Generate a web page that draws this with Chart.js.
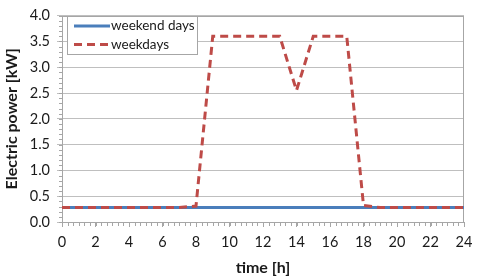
<!DOCTYPE html>
<html>
<head>
<meta charset="utf-8">
<script src="https://cdn.jsdelivr.net/npm/chart.js@4.4.1/dist/chart.umd.min.js"></script>
<style>
  html, body { margin: 0; padding: 0; background: #fff; }
  #wrap { width: 480px; height: 279px; position: relative; }
</style>
</head>
<body>
<div id="wrap"><canvas id="c" width="480" height="279"></canvas></div>
<script>
const hours = [0,1,2,3,4,5,6,7,8,9,10,11,12,13,14,15,16,17,18,19,20,21,22,23,24];
const weekendDays = [0.28,0.28,0.28,0.28,0.28,0.28,0.28,0.28,0.28,0.28,0.28,0.28,0.28,0.28,0.28,0.28,0.28,0.28,0.28,0.28,0.28,0.28,0.28,0.28,0.28];
const weekdays = [0.28,0.28,0.28,0.28,0.28,0.28,0.28,0.28,0.31,3.6,3.6,3.6,3.6,3.6,2.55,3.6,3.6,3.6,0.32,0.28,0.28,0.28,0.28,0.28,0.28];
const seriesLabels = ['weekend days', 'weekdays'];
const xTicks = [0,2,4,6,8,10,12,14,16,18,20,22,24];
const yTicks = [0,0.5,1,1.5,2,2.5,3,3.5,4];

const FONT = 'Lato, "Liberation Sans", sans-serif';
const BLUE = '#4A7EBB';
const RED = '#BE4B48';

const boxAndMinor = {
  id: 'boxAndMinor',
  beforeDatasetsDraw(chart) {
    const {ctx, chartArea: a, scales} = chart;
    ctx.save();
    ctx.strokeStyle = '#A6A6A6';
    ctx.lineWidth = 1;
    ctx.strokeRect(Math.round(a.left) + 0.5, Math.round(a.top) + 0.5, Math.round(a.right - a.left) - 1, Math.round(a.bottom - a.top));
    ctx.beginPath();
    for (let k = 0; k <= 40; k++) {
      const y = Math.round(scales.y.getPixelForValue(k / 10)) + 0.5;
      ctx.moveTo(a.left - 3, y); ctx.lineTo(a.left, y);
    }
    for (let k = 0; k <= 72; k++) {
      const x = Math.round(scales.x.getPixelForValue(k / 3)) + 0.5;
      ctx.moveTo(x, a.bottom); ctx.lineTo(x, a.bottom + 4);
    }
    ctx.stroke();
    ctx.restore();
  },
  afterDraw(chart) {
    const {ctx} = chart;
    ctx.save();
    const lx = 67.5, ly = 16.5, lw = 130, lh = 38;
    ctx.fillStyle = '#fff';
    ctx.fillRect(lx, ly, lw, lh);
    ctx.strokeStyle = '#A6A6A6';
    ctx.lineWidth = 1;
    ctx.strokeRect(lx, ly, lw, lh);
    const rows = [26, 44.5];
    chart.data.datasets.forEach((ds, i) => {
      ctx.strokeStyle = ds.borderColor;
      ctx.lineWidth = ds.borderWidth;
      ctx.setLineDash(ds.borderDash || []);
      ctx.beginPath();
      ctx.moveTo(74, rows[i]); ctx.lineTo(110, rows[i]);
      ctx.stroke();
      ctx.setLineDash([]);
      ctx.fillStyle = '#1a1a1a';
      ctx.font = '13.5px ' + FONT;
      ctx.textBaseline = 'middle';
      ctx.fillText(ds.label, 111, rows[i]);
    });
    ctx.restore();
  }
};

new Chart(document.getElementById('c'), {
  type: 'line',
  data: {
    datasets: [
      {
        label: seriesLabels[0],
        data: hours.map((h, i) => ({x: h, y: weekendDays[i]})),
        borderColor: BLUE, borderWidth: 3, pointRadius: 0, tension: 0, order: 1
      },
      {
        label: seriesLabels[1],
        data: hours.map((h, i) => ({x: h, y: weekdays[i]})),
        borderColor: RED, borderWidth: 3, borderDash: [8, 5], pointRadius: 0, tension: 0, order: 0
      }
    ]
  },
  options: {
    responsive: false,
    animation: false,
    layout: { padding: { left: 0, right: 16, top: 10, bottom: 0 } },
    plugins: { legend: { display: false }, tooltip: { enabled: false } },
    scales: {
      x: {
        type: 'linear', min: 0, max: 24,
        afterFit(s) { s.height = 57; },
        afterBuildTicks(s) { s.ticks = xTicks.map(v => ({value: v})); },
        ticks: { font: { family: FONT, size: 14.5 }, color: '#1a1a1a', padding: 7, maxRotation: 0, autoSkip: false },
        grid: { drawOnChartArea: false, tickLength: 5, color: '#A6A6A6' },
        border: { display: false },
        title: { display: true, text: 'time [h]', font: { family: FONT, size: 16, weight: 'bold' }, color: '#1a1a1a', padding: { top: 0, bottom: 2 } }
      },
      y: {
        min: 0, max: 4,
        afterFit(s) { s.width = 62; },
        afterBuildTicks(s) { s.ticks = yTicks.map(v => ({value: v})); },
        ticks: { font: { family: FONT, size: 14.5 }, color: '#1a1a1a', padding: 7, callback: v => Number(v).toFixed(1) },
        grid: { color: '#BFBFBF', tickLength: 5, drawTicks: true },
        border: { display: false },
        title: { display: true, text: 'Electric power [kW]', font: { family: FONT, size: 16, weight: 'bold' }, color: '#1a1a1a', padding: { top: 2, bottom: 0 } }
      }
    }
  },
  plugins: [boxAndMinor]
});
</script>
</body>
</html>
